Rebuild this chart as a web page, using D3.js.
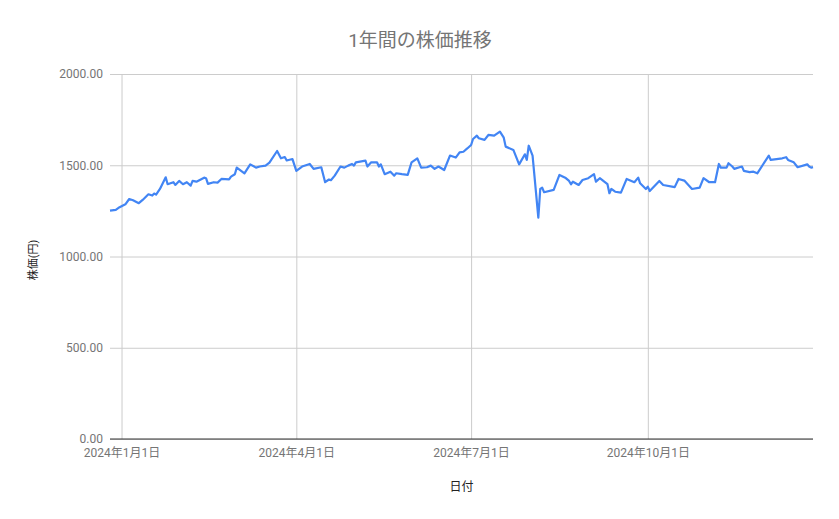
<!DOCTYPE html>
<html>
<head>
<meta charset="utf-8">
<script src="https://cdn.jsdelivr.net/npm/d3@7"></script>
<style>
  body { margin: 0; background: #fff; }
  svg { display: block; font-family: Roboto, "Noto Sans CJK JP", sans-serif; }
</style>
</head>
<body>
<svg id="chart" width="839" height="519"></svg>
<script>
const title = "1年間の株価推移";
const xTitle = "日付";
const yTitle = "株価(円)";
const yTicks = [0, 500, 1000, 1500, 2000];
const xTickDates = ["2024-01-01", "2024-04-01", "2024-07-01", "2024-10-01"];
const xTickLabels = ["2024年1月1日", "2024年4月1日", "2024年7月1日", "2024年10月1日"];

const dates = [
  "2023-12-26","2023-12-29","2023-12-31","2024-01-03","2024-01-05","2024-01-07","2024-01-10","2024-01-12",
  "2024-01-15","2024-01-17","2024-01-18","2024-01-19","2024-01-21","2024-01-24","2024-01-25","2024-01-28",
  "2024-01-29","2024-01-31","2024-02-02","2024-02-04","2024-02-06","2024-02-07","2024-02-09","2024-02-13",
  "2024-02-14","2024-02-15","2024-02-18","2024-02-20","2024-02-22","2024-02-26","2024-02-27","2024-02-29",
  "2024-03-01","2024-03-05","2024-03-08","2024-03-11","2024-03-13","2024-03-16","2024-03-18","2024-03-22",
  "2024-03-24","2024-03-26","2024-03-27","2024-03-30","2024-04-01","2024-04-04","2024-04-08","2024-04-10",
  "2024-04-14","2024-04-16","2024-04-18","2024-04-19","2024-04-21","2024-04-24","2024-04-26","2024-04-28",
  "2024-04-30","2024-05-01","2024-05-02","2024-05-07","2024-05-08","2024-05-10","2024-05-13","2024-05-14",
  "2024-05-15","2024-05-17","2024-05-20","2024-05-22","2024-05-23","2024-05-26","2024-05-29","2024-05-31",
  "2024-06-03","2024-06-05","2024-06-08","2024-06-10","2024-06-12","2024-06-14","2024-06-17","2024-06-20",
  "2024-06-23","2024-06-25","2024-06-27","2024-06-29","2024-07-01","2024-07-02","2024-07-04","2024-07-05",
  "2024-07-08","2024-07-10","2024-07-13","2024-07-16","2024-07-18","2024-07-19","2024-07-23","2024-07-26",
  "2024-07-29","2024-07-30","2024-07-31","2024-08-02","2024-08-05","2024-08-06","2024-08-07","2024-08-08",
  "2024-08-13","2024-08-16","2024-08-19","2024-08-21","2024-08-22","2024-08-23","2024-08-26","2024-08-28",
  "2024-08-31","2024-09-03","2024-09-04","2024-09-06","2024-09-10","2024-09-11","2024-09-12","2024-09-14",
  "2024-09-17","2024-09-20","2024-09-24","2024-09-26","2024-09-27","2024-09-30","2024-10-01","2024-10-02",
  "2024-10-07","2024-10-09","2024-10-15","2024-10-17","2024-10-20","2024-10-24","2024-10-28","2024-10-30",
  "2024-11-02","2024-11-05","2024-11-07","2024-11-08","2024-11-11","2024-11-12","2024-11-14","2024-11-15",
  "2024-11-19","2024-11-20","2024-11-23","2024-11-25","2024-11-27","2024-12-03","2024-12-04","2024-12-10",
  "2024-12-12","2024-12-13","2024-12-16","2024-12-18","2024-12-23","2024-12-24","2024-12-25","2024-12-26"
];
const prices = [
  1251,1255,1270,1286,1315,1308,1292,1310,
  1341,1334,1345,1339,1370,1434,1396,1407,
  1392,1414,1396,1407,1388,1414,1410,1432,
  1429,1398,1407,1405,1425,1423,1438,1451,
  1487,1456,1505,1487,1493,1498,1514,1578,
  1538,1545,1526,1534,1469,1493,1507,1480,
  1489,1407,1422,1418,1443,1493,1487,1498,
  1507,1498,1516,1525,1493,1516,1516,1493,
  1505,1451,1465,1443,1456,1451,1447,1516,
  1538,1487,1489,1498,1480,1493,1474,1553,
  1542,1571,1574,1592,1611,1644,1662,1648,
  1639,1666,1662,1684,1651,1602,1584,1505,
  1560,1529,1607,1553,1213,1370,1377,1352,
  1365,1447,1432,1414,1396,1410,1392,1419,
  1429,1451,1410,1429,1396,1347,1370,1355,
  1350,1425,1407,1432,1401,1370,1383,1359,
  1414,1392,1380,1425,1416,1370,1377,1429,
  1407,1407,1507,1487,1487,1511,1493,1480,
  1493,1469,1462,1465,1456,1553,1529,1538,
  1544,1529,1516,1489,1505,1493,1487,1490
];

const parse = d3.timeParse("%Y-%m-%d");
const data = dates.map((d, i) => ({ date: parse(d), value: prices[i] }));

const W = 839, H = 519;
const m = { top: 74, right: 26, bottom: 80, left: 110 };
const svg = d3.select("#chart");

const x = d3.scaleTime()
  .domain([parse("2023-12-26"), parse("2024-12-26")])
  .range([m.left, W - m.right]);
const y = d3.scaleLinear().domain([0, 2000]).range([H - m.bottom, m.top]);

// horizontal grid
svg.append("g")
  .attr("transform", `translate(${m.left},0)`)
  .call(d3.axisLeft(y).tickValues(yTicks).tickSize(-(W - m.left - m.right)).tickFormat(d => d3.format(".2f")(d)).tickPadding(7))
  .call(g => g.select(".domain").remove())
  .call(g => g.selectAll(".tick line").attr("stroke", "#cccccc").attr("stroke-width", 1))
  .call(g => g.selectAll(".tick text").attr("fill", "#757575").attr("font-size", 12).attr("font-family", "Roboto, 'Noto Sans CJK JP', sans-serif"));

// vertical grid + x labels
const xt = xTickDates.map(parse);
svg.append("g")
  .attr("transform", `translate(0,${H - m.bottom})`)
  .call(d3.axisBottom(x).tickValues(xt).tickSize(-(H - m.top - m.bottom)).tickFormat((d, i) => xTickLabels[i]).tickPadding(8))
  .call(g => g.select(".domain").remove())
  .call(g => g.selectAll(".tick line").attr("stroke", "#cccccc").attr("stroke-width", 1))
  .call(g => g.selectAll(".tick text").attr("fill", "#757575").attr("font-size", 12).attr("dy", "0.85em").attr("font-family", "Roboto, 'Noto Sans CJK JP', sans-serif"));

// baseline
svg.append("line")
  .attr("x1", m.left).attr("x2", W - m.right)
  .attr("y1", y(0)).attr("y2", y(0))
  .attr("stroke", "#333333").attr("stroke-width", 1.2);

// line
svg.append("path")
  .datum(data)
  .attr("fill", "none")
  .attr("stroke", "#4285f4")
  .attr("stroke-width", 2.2)
  .attr("stroke-linejoin", "round")
  .attr("d", d3.line().x(d => x(d.date)).y(d => y(d.value)));

// title
svg.append("text")
  .attr("x", 420).attr("y", 47)
  .attr("text-anchor", "middle")
  .attr("font-size", 19)
  .attr("fill", "#757575")
  .text(title);

// x axis title
svg.append("text")
  .attr("x", (m.left + W - m.right) / 2).attr("y", 491)
  .attr("text-anchor", "middle")
  .attr("font-size", 12)
  .attr("fill", "#222222")
  .text(xTitle);

// y axis title
svg.append("text")
  .attr("transform", `translate(37,260) rotate(-90)`)
  .attr("text-anchor", "middle")
  .attr("font-size", 11)
  .attr("fill", "#222222")
  .text(yTitle);
</script>
</body>
</html>
